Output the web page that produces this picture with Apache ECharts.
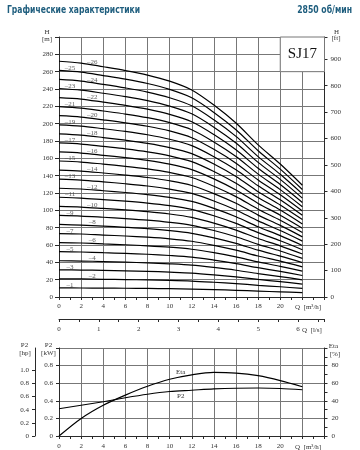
<!DOCTYPE html>
<html><head><meta charset="utf-8">
<script src="https://cdn.jsdelivr.net/npm/echarts@6/dist/echarts.min.js"></script>
<style>html,body{margin:0;padding:0;background:#fff}#c{width:360px;height:450px}</style>
</head><body><div id="c"></div>
<script>
// ---- data ----
const qPoints = [0, 2, 4, 6, 8, 10, 12, 14, 16, 18, 20, 22];
const stages = [1,2,3,4,5,6,7,8,9,10,11,12,13,14,15,16,17,18,19,20,21,22,23,24,25,26];
const h01 = [10.5, 10.4, 10.2, 10.1, 9.9, 9.6, 9.2, 8.5, 7.7, 6.8, 5.9, 5.0];
const h02 = [20.9, 20.8, 20.4, 20.1, 19.7, 19.2, 18.4, 17.0, 15.4, 13.5, 11.8, 9.9];
const h03 = [31.4, 31.1, 30.7, 30.2, 29.6, 28.7, 27.6, 25.6, 23.2, 20.3, 17.7, 14.9];
const h04 = [41.8, 41.5, 40.9, 40.2, 39.4, 38.3, 36.8, 34.1, 30.9, 27.0, 23.6, 19.8];
const h05 = [52.3, 51.9, 51.1, 50.3, 49.3, 47.9, 46.0, 42.6, 38.6, 33.8, 29.5, 24.8];
const h06 = [62.8, 62.3, 61.3, 60.3, 59.1, 57.5, 55.1, 51.1, 46.3, 40.5, 35.4, 29.8];
const h07 = [73.2, 72.7, 71.5, 70.4, 69.0, 67.1, 64.3, 59.6, 54.0, 47.3, 41.3, 34.7];
const h08 = [83.7, 83.0, 81.8, 80.4, 78.8, 76.6, 73.5, 68.2, 61.8, 54.0, 47.2, 39.7];
const h09 = [94.1, 93.4, 92.0, 90.5, 88.7, 86.2, 82.7, 76.7, 69.5, 60.8, 53.1, 44.6];
const h10 = [104.6, 103.8, 102.2, 100.5, 98.5, 95.8, 91.9, 85.2, 77.2, 67.5, 59.0, 49.6];
const h11 = [115.1, 114.2, 112.4, 110.6, 108.4, 105.4, 101.1, 93.7, 84.9, 74.3, 64.9, 54.6];
const h12 = [125.5, 124.6, 122.6, 120.6, 118.2, 115.0, 110.3, 102.2, 92.6, 81.0, 70.8, 59.5];
const h13 = [136.0, 134.9, 132.9, 130.7, 128.1, 124.5, 119.5, 110.8, 100.4, 87.8, 76.7, 64.5];
const h14 = [146.4, 145.3, 143.1, 140.7, 137.9, 134.1, 128.7, 119.3, 108.1, 94.5, 82.6, 69.4];
const h15 = [156.9, 155.7, 153.3, 150.8, 147.8, 143.7, 137.9, 127.8, 115.8, 101.3, 88.5, 74.4];
const h16 = [167.4, 166.1, 163.5, 160.8, 157.6, 153.3, 147.0, 136.3, 123.5, 108.0, 94.4, 79.4];
const h17 = [177.8, 176.5, 173.7, 170.9, 167.5, 162.9, 156.2, 144.8, 131.2, 114.8, 100.3, 84.3];
const h18 = [188.3, 186.8, 184.0, 180.9, 177.3, 172.4, 165.4, 153.4, 139.0, 121.5, 106.2, 89.3];
const h19 = [198.7, 197.2, 194.2, 191.0, 187.2, 182.0, 174.6, 161.9, 146.7, 128.3, 112.1, 94.2];
const h20 = [209.2, 207.6, 204.4, 201.0, 197.0, 191.6, 183.8, 170.4, 154.4, 135.0, 118.0, 99.2];
const h21 = [219.7, 218.0, 214.6, 211.1, 206.9, 201.2, 193.0, 178.9, 162.1, 141.8, 123.9, 104.2];
const h22 = [230.1, 228.4, 224.8, 221.1, 216.7, 210.8, 202.2, 187.4, 169.8, 148.5, 129.8, 109.1];
const h23 = [240.6, 238.7, 235.1, 231.2, 226.6, 220.3, 211.4, 196.0, 177.6, 155.3, 135.7, 114.1];
const h24 = [251.0, 249.1, 245.3, 241.2, 236.4, 229.9, 220.6, 204.5, 185.3, 162.0, 141.6, 119.0];
const h25 = [261.5, 259.5, 255.5, 251.3, 246.3, 239.5, 229.8, 213.0, 193.0, 168.8, 147.5, 124.0];
const h26 = [272.0, 269.9, 265.7, 261.3, 256.1, 249.1, 238.9, 221.5, 200.7, 175.5, 153.4, 129.0];
const stageCurves = [h01,h02,h03,h04,h05,h06,h07,h08,h09,h10,h11,h12,h13,h14,h15,h16,h17,h18,h19,h20,h21,h22,h23,h24,h25,h26];

const etaValues = [0, 20, 35, 46.5, 56.5, 64.5, 69.5, 72.3, 71.5, 68.5, 63, 56];
const p2Values  = [0.31, 0.35, 0.39, 0.435, 0.475, 0.505, 0.52, 0.535, 0.543, 0.545, 0.54, 0.525];

const hpTicks = [0, 0.2, 0.4, 0.6, 0.8, 1.0];
const modelName = 'SJ17';
const titleText = 'Графические характеристики';
const speedText = '2850 об/мин';

// ---- styles ----
const SERIF = 'Liberation Serif';
const GRID_C = '#777';
const AX_C = '#2a2a2a';
const TXT_C = '#333';
const TITLE_FONT = 'bold 10px "Liberation Sans Narrow", "DejaVu Sans Condensed", sans-serif';
const lab = (extra) => Object.assign({fontFamily: SERIF, fontSize: 7, color: TXT_C}, extra || {});
const axLine = {show: true, onZero: false, lineStyle: {color: AX_C, width: 1}};
const tick = (len) => ({show: true, inside: false, length: len, lineStyle: {color: AX_C}});
const minor = (n, len) => ({show: true, splitNumber: n, length: len, lineStyle: {color: AX_C}});
const split = {show: true, lineStyle: {color: GRID_C, width: 1}};
const fmt1 = v => (v === 0 ? '0' : v.toFixed(1));

const chart = echarts.init(document.getElementById('c'), null, {renderer: 'canvas'});

const series = [];
stageCurves.forEach((arr, k) => {
  const s = {
    type: 'line', xAxisIndex: 0, yAxisIndex: 0, silent: true, z: 3,
    data: qPoints.map((q, i) => [q, arr[i]]),
    smooth: 0.3, symbol: 'none',
    lineStyle: {color: '#000', width: 1.2}
  };
  if (k === 0) {
    s.markArea = {
      silent: true,
      itemStyle: {color: '#fff', borderColor: GRID_C, borderWidth: 1},
      label: {show: true, position: 'inside', formatter: modelName, fontFamily: SERIF, fontSize: 15, color: '#111'},
      data: [[{coord: [20, 260]}, {coord: [24, 300]}]]
    };
  }
  series.push(s);
});

series.push({
  type: 'scatter', xAxisIndex: 0, yAxisIndex: 0, silent: true, z: 4,
  symbolSize: 0,
  data: stages.map((n, k) => {
    const arr = stageCurves[k];
    const odd = n % 2 === 1;
    const i0 = odd ? 0 : 1;
    return {value: [(qPoints[i0] + qPoints[i0 + 1]) / 2, (arr[i0] + arr[i0 + 1]) / 2],
            label: {formatter: '–' + n}};
  }),
  label: lab({show: true, position: 'inside', offset: [0, -3]})
});

const midPoint = (arr) => [(qPoints[5] + qPoints[6]) / 2, (arr[5] + arr[6]) / 2];

series.push({
  type: 'line', xAxisIndex: 2, yAxisIndex: 4, silent: true,
  data: qPoints.map((q, i) => [q, etaValues[i]]),
  smooth: 0.3, symbol: 'none', lineStyle: {color: '#000', width: 1.2},
  markPoint: {symbol: 'circle', symbolSize: 0, silent: true,
    label: lab({show: true, position: 'inside', offset: [0, -5], formatter: 'Eta'}),
    data: [{coord: midPoint(etaValues)}]}
});
series.push({
  type: 'line', xAxisIndex: 2, yAxisIndex: 2, silent: true,
  data: qPoints.map((q, i) => [q, p2Values[i]]),
  smooth: 0.3, symbol: 'none', lineStyle: {color: '#000', width: 1.1},
  markPoint: {symbol: 'circle', symbolSize: 0, silent: true,
    label: lab({show: true, position: 'inside', offset: [0, 5], formatter: 'P2'}),
    data: [{coord: midPoint(p2Values)}]}
});

const txt = (x, y, text, opts) => ({
  type: 'text', x: x, y: y, silent: true,
  style: Object.assign({text: text, font: '7px "Liberation Serif"', fill: TXT_C, align: 'center', verticalAlign: 'middle'}, opts || {})
});

const option = {
  animation: false,
  backgroundColor: '#fff',
  grid: [
    {left: 59, top: 37, width: 265.5, height: 260},
    {left: 59, top: 348, width: 265.5, height: 88}
  ],
  xAxis: [
    {gridIndex: 0, type: 'value', min: 0, max: 24, interval: 2, position: 'bottom',
     axisLine: axLine, axisTick: tick(3), minorTick: minor(2, 3), splitLine: split,
     axisLabel: lab({margin: 6, formatter: v => (v <= 20 ? String(v) : '')})},
    {gridIndex: 0, type: 'value', min: 0, max: 24 / 3.6, interval: 1, position: 'bottom', offset: 22,
     axisLine: axLine, axisTick: tick(3), minorTick: minor(2, 3), splitLine: {show: false},
     axisLabel: lab({margin: 7, formatter: v => (v <= 6 ? String(v) : '')})},
    {gridIndex: 1, type: 'value', min: 0, max: 24, interval: 2, position: 'bottom',
     axisLine: axLine, axisTick: tick(3), minorTick: minor(2, 3), splitLine: split,
     axisLabel: lab({margin: 7, formatter: v => (v <= 20 ? String(v) : '')})}
  ],
  yAxis: [
    {gridIndex: 0, type: 'value', min: 0, max: 300, interval: 20, position: 'left',
     axisLine: axLine, axisTick: tick(4), splitLine: split,
     axisLabel: lab({margin: 6, formatter: v => (v <= 280 ? String(v) : '')})},
    {gridIndex: 0, type: 'value', min: 0, max: 300 / 0.3048, interval: 100, position: 'right',
     axisLine: axLine, axisTick: tick(3), splitLine: {show: false},
     axisLabel: lab({margin: 6, formatter: v => (v <= 900 ? String(v) : '')})},
    {gridIndex: 1, type: 'value', min: 0, max: 0.9999, interval: 0.2, position: 'left',
     axisLine: axLine, axisTick: tick(3), splitLine: split,
     axisLabel: lab({margin: 6, formatter: v => (v <= 0.81 ? fmt1(v) : '')})},
    {gridIndex: 1, type: 'value', min: 0, max: 0.9999 * 1.341, interval: 0.2, position: 'left', offset: 24,
     axisLine: axLine, axisTick: Object.assign(tick(3), {customValues: hpTicks}), splitLine: {show: false},
     axisLabel: lab({margin: 6, customValues: hpTicks, formatter: v => (v <= 1.01 ? fmt1(v) : '')})},
    {gridIndex: 1, type: 'value', min: 0, max: 99.99, interval: 20, position: 'right',
     axisLine: axLine, axisTick: tick(3), minorTick: minor(2, 3), splitLine: {show: false},
     axisLabel: lab({margin: 7, formatter: v => (v <= 80 ? String(v) : '')})}
  ],
  graphic: [
    {type: 'text', x: 7, y: 10, scaleX: 0.85, silent: true,
     style: {text: titleText, font: TITLE_FONT, fill: '#1f5e7e', align: 'left', verticalAlign: 'middle'}},
    {type: 'text', x: 352, y: 10, scaleX: 0.86, silent: true,
     style: {text: speedText, font: TITLE_FONT, fill: '#1f5e7e', align: 'right', verticalAlign: 'middle'}},
    txt(47, 32.5, 'H'), txt(47, 39, '[m]'),
    txt(336.5, 32.5, 'H'), txt(336, 38.5, '[ft]'),
    txt(295, 307, 'Q  [m³/h]', {align: 'left'}),
    txt(302, 330, 'Q  [l/s]', {align: 'left'}),
    txt(295, 447, 'Q  [m³/h]', {align: 'left'}),
    txt(24.5, 345, 'P2'), txt(25, 353.5, '[hp]'),
    txt(48.5, 345, 'P2'), txt(48.5, 353.5, '[kW]'),
    txt(333.5, 346, 'Eta'), txt(335, 354, '[%]')
  ],
  series: series
};
chart.setOption(option);
</script>
</body></html>
